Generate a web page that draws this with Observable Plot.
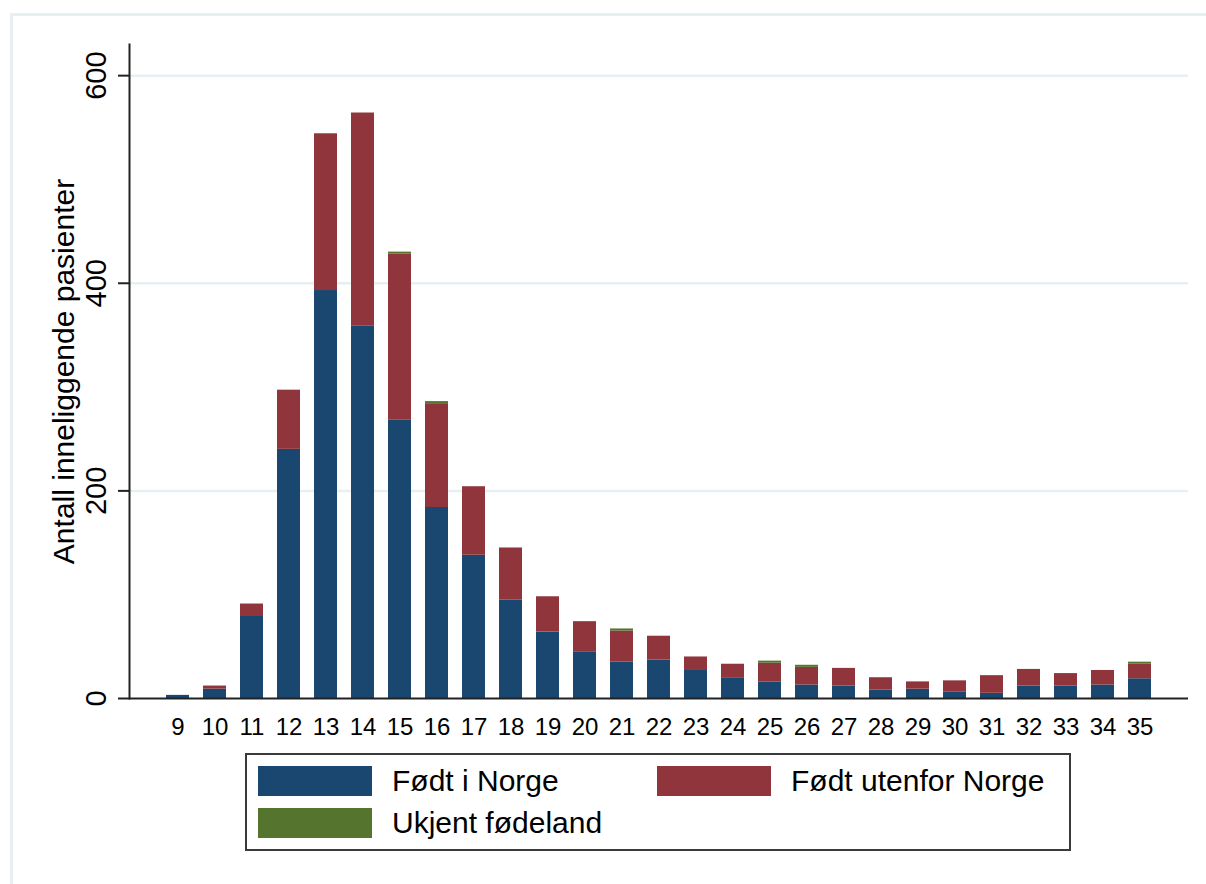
<!DOCTYPE html>
<html><head><meta charset="utf-8">
<script src="https://cdn.jsdelivr.net/npm/d3@7"></script>
<script src="https://cdn.jsdelivr.net/npm/@observablehq/plot@0.6"></script>
<style>
html,body{margin:0;padding:0;background:#fff;}
body{width:1206px;height:884px;position:relative;overflow:hidden;font-family:"Liberation Sans",Arial,sans-serif;}
#frame{position:absolute;left:10px;top:13px;width:1300px;height:1000px;border:3px solid #e6eff1;box-sizing:border-box;}
#chart{position:absolute;left:0;top:0;}
#legend{position:absolute;left:245px;top:753px;width:826px;height:98px;border:2px solid #3a3a3a;box-sizing:border-box;background:#fff;}
.item{position:absolute;display:flex;align-items:center;height:30px;}
.sw{width:114px;height:30px;margin-right:20px;flex:none;}
.lab{font-size:30px;line-height:30px;color:#000;white-space:nowrap;}
</style></head>
<body>
<div id="frame"></div>
<div id="chart"></div>
<div id="legend"></div>
<script>
// Data
const ages = [9,10,11,12,13,14,15,16,17,18,19,20,21,22,23,24,25,26,27,28,29,30,31,32,33,34,35];
const bornNorway = [3,9,79,240,393,359,268,184,138,95,64,45,35,37,27,20,16,13,12,8,9,6,5,12,12,13,19];
const bornAbroad = [0,3,12,57,151,205,160,100,66,50,34,29,30,23,13,13,18,17,17,12,7,11,17,16,12,14,14];
const unknownCountry = [0,0,0,0,0,0,2,2,0,0,0,0,2,0,0,0,2,2,0,0,0,0,0,0,0,0,2];
const series = ["Født i Norge", "Født utenfor Norge", "Ukjent fødeland"];
const seriesColors = ["#1a476f", "#90353b", "#55752f"];
const yTicks = [0, 200, 400, 600];
const yTitle = "Antall inneliggende pasienter";

const valuesBySeries = [bornNorway, bornAbroad, unknownCountry];
const rows = ages.flatMap((a, i) => series.map((s, j) => ({age: a, group: s, value: valuesBySeries[j][i]})));

const chart = Plot.plot({
  width: 1206, height: 745,
  marginLeft: 129, marginRight: 18, marginTop: 44, marginBottom: 47,
  style: {fontFamily: '"Liberation Sans", Arial, sans-serif', color: "#000", background: "transparent"},
  x: {type: "band", domain: ages, paddingInner: 0.39, paddingOuter: 0.93, axis: null},
  y: {domain: [0, 630], axis: null},
  color: {domain: series, range: seriesColors},
  marks: [
    Plot.ruleY(yTicks.filter(d => d > 0), {stroke: "#e6eff1", strokeWidth: 2.5}),
    Plot.barY(rows, {x: "age", y: "value", fill: "group", order: series}),
    Plot.ruleY([0], {stroke: "#222", strokeWidth: 2}),
    Plot.frame({anchor: "left", stroke: "#222", strokeWidth: 2}),
    Plot.axisY({ticks: yTicks, tickSize: 11, tickFormat: () => "", stroke: "#222", strokeWidth: 2, label: null}),
    Plot.text(yTicks, {y: d => d, text: d => String(d), frameAnchor: "left", dx: -24, rotate: -90, textAnchor: "middle", lineAnchor: "bottom", fontSize: 29, fill: "#000"}),
    Plot.text(ages, {x: d => d, text: d => String(d), frameAnchor: "bottom", dy: 19, lineAnchor: "top", fontSize: 24, fill: "#000"}),
    Plot.text([yTitle], {frameAnchor: "left", text: d => d, dx: -56, rotate: -90, textAnchor: "middle", lineAnchor: "bottom", fontSize: 30, fill: "#000"})
  ]
});
document.getElementById("chart").appendChild(chart);

// Legend (HTML, below the SVG)
const legend = document.getElementById("legend");
const colX = [11, 410], rowY = [11, 53];
series.forEach((s, i) => {
  const item = document.createElement("div");
  item.className = "item";
  item.style.left = colX[i % 2] + "px";
  item.style.top = rowY[Math.floor(i / 2)] + "px";
  const sw = document.createElement("div");
  sw.className = "sw";
  sw.style.background = seriesColors[i];
  const lab = document.createElement("span");
  lab.className = "lab";
  lab.textContent = s;
  item.appendChild(sw); item.appendChild(lab);
  legend.appendChild(item);
});
</script>
</body></html>
